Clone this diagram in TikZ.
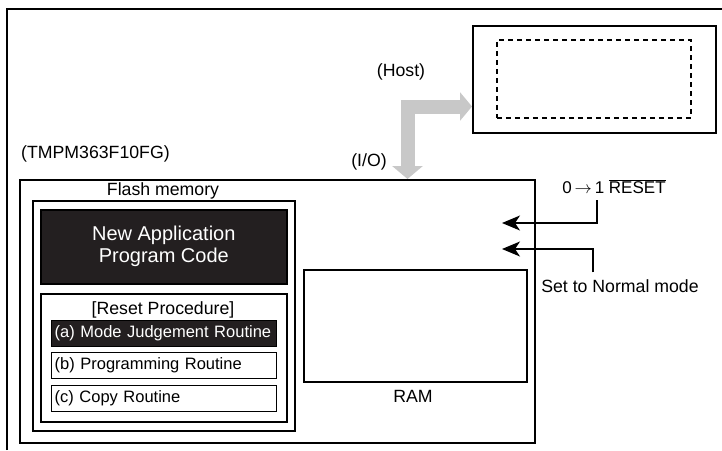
\documentclass[tikz,border=0pt]{standalone}
\usepackage{fontspec}
\setmainfont{Liberation Sans}
\usetikzlibrary{arrows.meta}
\definecolor{inkdark}{RGB}{35,31,32}
\definecolor{busgray}{RGB}{200,200,200}
\tikzset{
  blk/.style={draw, line width=1.6pt, inner sep=0pt, anchor=north west},
  lbl/.style={font=\fontsize{17.7}{21}\selectfont, inner sep=0pt},
  rtn/.style={blk, line width=1.4pt, minimum height=26pt, text width=219pt, inner xsep=3pt, align=left, font=\fontsize{16.5}{19}\selectfont},
  sig/.style={line width=1.4pt, -{Stealth[length=18pt,width=15pt,inset=5pt]}},
  bus/.style={busgray, line width=14pt, {Triangle[length=13pt,width=30pt]}-{Triangle[length=12pt,width=28pt]}}
}
\begin{document}
\begin{tikzpicture}[x=1pt,y=-1pt]
  \useasboundingbox (0,0) rectangle (722,450);
  \draw[line width=1.9pt] (7,450) |- (722,9);

  \node[blk, line width=1.9pt, minimum width=243pt, minimum height=107pt] (host) at (472,25) {};
  \node[blk, dashed, dash pattern=on 5pt off 4pt, line width=1.6pt, minimum width=194pt, minimum height=78pt] (hostwin) at (496,39) {};
  \node[lbl] (hostlbl) at (401,72) {(Host)};

  \node[lbl, anchor=west] (mcu) at (21,154) {(TMPM363F10FG)};
  \node[lbl] (io) at (369,162) {(I/O)};
  \node[blk, line width=2pt, minimum width=515pt, minimum height=263pt] (chip) at (19,179) {};

  \node[lbl] (flashlbl) at (163,191) {Flash memory};
  \node[blk, minimum width=262pt, minimum height=230pt] (flash) at (32,200) {};
  \node[blk, fill=inkdark, text=white, minimum width=246pt, minimum height=74pt, align=center, font=\fontsize{20}{22}\selectfont] (newapp) at (40,209) {New Application\\Program Code};
  \node[blk, minimum width=246pt, minimum height=128pt] (reset) at (40,293) {};
  \node[lbl] (resetlbl) at (163,310) {[Reset Procedure]};
  \node[rtn, fill=inkdark, text=white] (rtna) at (51,320) {(a) Mode Judgement Routine};
  \node[rtn] (rtnb) at (51,352) {(b) Programming Routine};
  \node[rtn] (rtnc) at (51,385) {(c) Copy Routine};

  \node[blk, minimum width=223pt, minimum height=112pt] (ram) at (303,269) {};
  \node[lbl] (ramlbl) at (413,396) {RAM};

  \coordinate (buscorner) at (407.5,106.5);
  \draw[bus] (buscorner |- chip.north) -- (buscorner) -- (buscorner -| host.west);

  \node[lbl, font=\fontsize{17}{20}\selectfont] (rstlbl) at (614,187) {0\,$\rightarrow$\,1 $\overline{\mbox{RESET}}$};
  \node[lbl] (modelbl) at (620,286) {Set to Normal mode};
  \coordinate (rstin) at (502,223);
  \coordinate (modein) at (502,249);
  \draw[sig] ([xshift=35pt,yshift=-6pt]rstlbl.south west) |- (rstin);
  \draw[sig] ([xshift=52pt,yshift=7pt]modelbl.north west) |- (modein);
\end{tikzpicture}
\end{document}
